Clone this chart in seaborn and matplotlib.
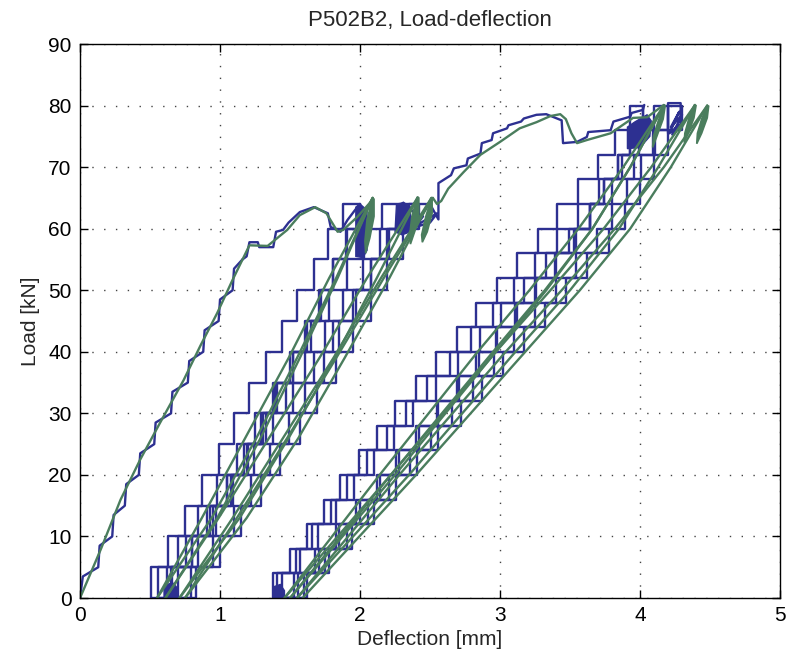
import seaborn as sns
import matplotlib.pyplot as plt
import pandas as pd
import numpy as np

# colours of the two deflection traces
BLUE = "#2d3091"
GREEN = "#4a7d5d"

# ---- green trace (smooth) -------------------------------------------------
# first loading up to the first peak
ge1_x = [0.00, 0.15, 0.29, 0.43, 0.57, 0.74, 0.86, 0.98, 1.09, 1.21, 1.34, 1.48, 1.57, 1.68, 1.76, 1.84, 1.88, 1.98, 2.09]
ge1_y = [0.0, 8.0, 16.0, 22.5, 28.4, 35.4, 41.0, 46.3, 51.7, 57.3, 57.2, 59.8, 62.2, 63.5, 62.5, 59.5, 59.8, 61.9, 64.7]
# loading from 65 kN up to 80 kN
ge2_x = [2.52, 2.55, 2.58, 2.63, 2.74, 2.86, 3.00, 3.14, 3.26, 3.36, 3.43, 3.47, 3.51, 3.55, 3.62, 3.79, 3.95, 4.05, 4.17]
ge2_y = [65.0, 64.0, 64.5, 66.5, 69.2, 72.0, 74.1, 76.3, 77.3, 78.3, 78.6, 77.8, 75.5, 73.9, 74.4, 75.5, 78.0, 78.1, 80.1]

# unload / reload cycles, 65 kN group (deflection at these loads)
g1_load = [0, 13, 26, 39, 52, 65]
g1_u0 = [0.55, 0.94, 1.26, 1.55, 1.83, 2.09]
g1_r0 = [0.55, 0.87, 1.18, 1.49, 1.78, 2.09]
g1_u1 = [0.61, 0.98, 1.29, 1.57, 1.84, 2.09]
g1_r1 = [0.61, 0.99, 1.35, 1.71, 2.05, 2.41]
g1_u2 = [0.71, 1.14, 1.49, 1.82, 2.12, 2.41]
g1_r2 = [0.71, 1.09, 1.45, 1.81, 2.15, 2.51]
g1_u3 = [0.75, 1.19, 1.56, 1.89, 2.21, 2.51]
g1_r3 = [0.75, 1.12, 1.48, 1.83, 2.17, 2.52]

# unload / reload cycles, 80 kN group
g2_load = [0, 20, 40, 50, 60, 70, 80]
g2_u0 = [1.46, 2.22, 2.95, 3.32, 3.66, 3.93, 4.17]
g2_r0 = [1.46, 2.14, 2.84, 3.21, 3.56, 3.88, 4.17]
g2_u1 = [1.50, 2.25, 2.97, 3.33, 3.66, 3.93, 4.17]
g2_r1 = [1.50, 2.22, 2.97, 3.36, 3.74, 4.08, 4.39]
g2_u2 = [1.55, 2.35, 3.11, 3.50, 3.85, 4.13, 4.39]
g2_r2 = [1.55, 2.28, 3.04, 3.44, 3.82, 4.17, 4.48]
g2_u3 = [1.59, 2.40, 3.18, 3.57, 3.93, 4.22, 4.48]

# small cycles at the peaks (filled leaves)
leaves = [
    ([2.09, 2.05, 2.035, 2.04, 2.07, 2.10, 2.10], [65.0, 61.5, 58.0, 56.0, 58.5, 62.0, 64.8]),
    ([2.41, 2.37, 2.355, 2.36, 2.39, 2.42, 2.42], [65.2, 62.0, 59.0, 57.5, 59.5, 62.5, 65.0]),
    ([2.51, 2.47, 2.44, 2.445, 2.48, 2.515, 2.515], [65.0, 62.0, 59.0, 57.8, 59.5, 62.5, 64.8]),
    ([4.17, 4.13, 4.095, 4.09, 4.12, 4.165, 4.18], [80.1, 77.5, 75.0, 73.2, 75.0, 77.8, 80.0]),
    ([4.39, 4.35, 4.32, 4.315, 4.345, 4.385, 4.40], [80.2, 78.0, 75.5, 74.0, 75.5, 78.0, 80.0]),
    ([4.48, 4.44, 4.41, 4.405, 4.44, 4.48, 4.49], [80.0, 77.8, 75.5, 73.8, 75.5, 78.0, 79.9]),
]

# ---- blue trace (stepped) -------------------------------------------------
be1a_x = [0.00, 0.02, 0.13, 0.14, 0.23, 0.24, 0.32, 0.33, 0.42, 0.43, 0.53, 0.54,
          0.65, 0.66, 0.77, 0.78, 0.88, 0.89, 0.99, 1.00, 1.09, 1.10, 1.16]
be1a_y = [0, 3.5, 5, 8.5, 10, 13.5, 15, 18.5, 20, 23.5, 25, 28.5,
          30, 33.5, 35, 38.5, 40, 43.5, 45, 48.5, 50, 53.5, 55]
be1b_x = [1.16, 1.19, 1.21, 1.27, 1.28, 1.38, 1.40, 1.45, 1.49, 1.57, 1.67, 1.77, 1.79, 1.86, 1.91, 1.98, 2.00]
be1b_y = [55.0, 55.5, 57.8, 57.8, 57.0, 57.0, 59.5, 59.8, 61.0, 62.7, 63.5, 62.5, 60.3, 59.5, 61.4, 63.5, 64.0]
be2_x = [2.50, 2.56, 2.56, 2.65, 2.67, 2.76, 2.77, 2.86, 2.87, 2.94, 2.95, 3.05, 3.06, 3.15, 3.17, 3.26, 3.33,
         3.44, 3.45, 3.55, 3.62, 3.63, 3.79, 3.81, 3.93, 3.94, 4.02, 4.03]
be2_y = [64.0, 61.5, 67.4, 68.7, 69.8, 70.3, 71.4, 72.2, 73.9, 74.4, 75.5, 76.3, 76.8, 77.4, 77.9, 78.5, 78.6,
         77.6, 73.9, 74.1, 74.9, 75.7, 76.0, 77.4, 78.2, 78.8, 79.3, 80.1]

b1_load = [0, 5, 10, 15, 20, 25, 30, 35, 40, 45, 50, 55, 60, 64]
b1_u0 = [0.51, 0.66, 0.80, 0.93, 1.05, 1.17, 1.29, 1.39, 1.50, 1.61, 1.71, 1.81, 1.90, 2.00]
b1_r0 = [0.51, 0.63, 0.75, 0.87, 0.99, 1.10, 1.21, 1.33, 1.44, 1.55, 1.67, 1.77, 1.88, 2.00]
b1_u1 = [0.56, 0.70, 0.84, 0.97, 1.08, 1.19, 1.31, 1.41, 1.52, 1.62, 1.72, 1.81, 1.91, 2.00]
b1_r1 = [0.56, 0.70, 0.84, 0.98, 1.12, 1.25, 1.38, 1.52, 1.65, 1.78, 1.91, 2.03, 2.16, 2.30]
b1_u2 = [0.62, 0.79, 0.95, 1.10, 1.22, 1.36, 1.49, 1.61, 1.74, 1.85, 1.97, 2.08, 2.19, 2.30]
b1_r2 = [0.62, 0.76, 0.91, 1.05, 1.20, 1.33, 1.47, 1.61, 1.75, 1.88, 2.02, 2.14, 2.28, 2.42]
b1_u3 = [0.65, 0.83, 1.00, 1.15, 1.29, 1.43, 1.57, 1.69, 1.83, 1.95, 2.08, 2.19, 2.31, 2.42]
b1_r3 = [0.65, 0.80, 0.95, 1.09, 1.24, 1.38, 1.52, 1.67, 1.81, 1.95, 2.08, 2.21, 2.35, 2.50]

b2_load = [0, 4, 8, 12, 16, 20, 24, 28, 32, 36, 40, 44, 48, 52, 56, 60, 64, 68, 72, 76, 80]
b2_u0 = [1.38, 1.53, 1.68, 1.83, 1.97, 2.12, 2.26, 2.40, 2.55, 2.69, 2.83, 2.97, 3.11, 3.25, 3.39, 3.53, 3.64, 3.74, 3.84, 3.93, 4.02]
b2_r0 = [1.38, 1.50, 1.62, 1.74, 1.86, 1.99, 2.12, 2.25, 2.40, 2.54, 2.69, 2.83, 2.98, 3.12, 3.27, 3.41, 3.56, 3.70, 3.82, 3.93, 4.02]
b2_u1 = [1.41, 1.56, 1.71, 1.85, 2.00, 2.14, 2.28, 2.42, 2.56, 2.71, 2.85, 2.98, 3.12, 3.26, 3.40, 3.54, 3.64, 3.74, 3.84, 3.93, 4.02]
b2_r1 = [1.41, 1.54, 1.66, 1.79, 1.91, 2.05, 2.19, 2.33, 2.48, 2.64, 2.79, 2.95, 3.10, 3.25, 3.41, 3.56, 3.71, 3.87, 3.99, 4.10, 4.20]
b2_u2 = [1.44, 1.60, 1.75, 1.91, 2.06, 2.21, 2.36, 2.51, 2.66, 2.81, 2.96, 3.10, 3.25, 3.40, 3.54, 3.69, 3.80, 3.91, 4.01, 4.11, 4.20]
b2_r2 = [1.44, 1.57, 1.70, 1.83, 1.96, 2.10, 2.24, 2.38, 2.54, 2.70, 2.86, 3.01, 3.17, 3.33, 3.49, 3.64, 3.80, 3.96, 4.09, 4.20, 4.30]
b2_u3 = [1.46, 1.62, 1.78, 1.94, 2.10, 2.26, 2.41, 2.56, 2.72, 2.87, 3.02, 3.17, 3.32, 3.47, 3.62, 3.78, 3.89, 4.00, 4.10, 4.20, 4.30]

# dense small-cycle regions of the blue trace
blobs = [
    ([1.97, 1.97, 2.00, 2.05, 2.05, 2.02], [55.5, 63.5, 64.0, 63.0, 56.5, 55.3]),
    ([2.25, 2.26, 2.31, 2.36, 2.36, 2.30], [59.5, 63.8, 64.3, 63.5, 59.5, 59.0]),
    ([3.91, 3.91, 3.96, 4.05, 4.08, 4.07, 4.00], [73.0, 76.5, 77.3, 78.5, 77.5, 75.0, 73.2]),
    ([0.60, 0.60, 0.66, 0.70, 0.70], [0.0, 2.0, 2.5, 1.5, 0.0]),
    ([1.38, 1.38, 1.43, 1.46, 1.46], [0.0, 1.8, 2.2, 1.2, 0.0]),
]
bz1_x = [2.36, 2.45, 2.40, 2.55, 2.50, 2.36]
bz1_y = [63.0, 62.0, 60.5, 62.5, 61.0, 60.0]
bz2_x = [4.20, 4.20, 4.29, 4.29, 4.21, 4.28, 4.22, 4.30, 4.23, 4.30]
bz2_y = [75.5, 80.4, 80.4, 77.0, 75.5, 79.0, 76.5, 78.5, 75.3, 77.0]

sns.set_style("ticks")
plt.rcParams["font.family"] = ["Liberation Sans", "DejaVu Sans"]

fig = plt.figure(figsize=(7.9, 6.69), dpi=100)
ax = fig.add_axes([0.1013, 0.1061, 0.8861, 0.8281])

LW = 1.7


def line(x, y, color, style="default"):
    sns.lineplot(x=x, y=y, sort=False, estimator=None, color=color, lw=LW,
                 drawstyle=style, ax=ax, legend=False)


# blue first
line(be1a_x, be1a_y, BLUE)
line(be1b_x, be1b_y, BLUE)
line(be2_x, be2_y, BLUE)
for xs in [b1_r0, b1_r1, b1_r2, b1_r3]:
    line(xs, b1_load, BLUE, "steps-pre")
for xs in [b1_u0, b1_u1, b1_u2, b1_u3]:
    line(xs, b1_load, BLUE, "steps-post")
for xs in [b2_r0, b2_r1, b2_r2]:
    line(xs, b2_load, BLUE, "steps-pre")
for xs in [b2_u0, b2_u1, b2_u2, b2_u3]:
    line(xs, b2_load, BLUE, "steps-post")
line(bz1_x, bz1_y, BLUE)
line(bz2_x, bz2_y, BLUE)
for bx, by in blobs:
    ax.fill(bx, by, color=BLUE, lw=1.0, zorder=2)

# green on top
line(ge1_x, ge1_y, GREEN)
line(ge2_x, ge2_y, GREEN)
for xs in [g1_u0, g1_r0, g1_u1, g1_r1, g1_u2, g1_r2, g1_u3, g1_r3]:
    line(xs, g1_load, GREEN)
for xs in [g2_u0, g2_r0, g2_u1, g2_r1, g2_u2, g2_r2, g2_u3]:
    line(xs, g2_load, GREEN)
for lx, ly in leaves:
    ax.fill(lx, ly, color=GREEN, lw=1.2, zorder=3)

ax.set_xlim(0, 5)
ax.set_ylim(0, 90)
ax.set_xticks(range(0, 6))
ax.set_yticks(range(0, 91, 10))
ax.grid(True, color="#444444", linestyle=(0, (1, 7.5)), linewidth=1.0)
ax.tick_params(direction="in", length=6, width=1, top=True, right=True,
               labelsize=15, colors="black", pad=6)
for sp in ax.spines.values():
    sp.set_visible(True)
    sp.set_color("black")
    sp.set_linewidth(1.0)

ax.set_title("P502B2, Load-deflection", fontsize=16, pad=13)
ax.set_xlabel("Deflection [mm]", fontsize=15, labelpad=3)
ax.set_ylabel("Load [kN]", fontsize=15, labelpad=6)

fig.savefig("out.png", dpi=100)
